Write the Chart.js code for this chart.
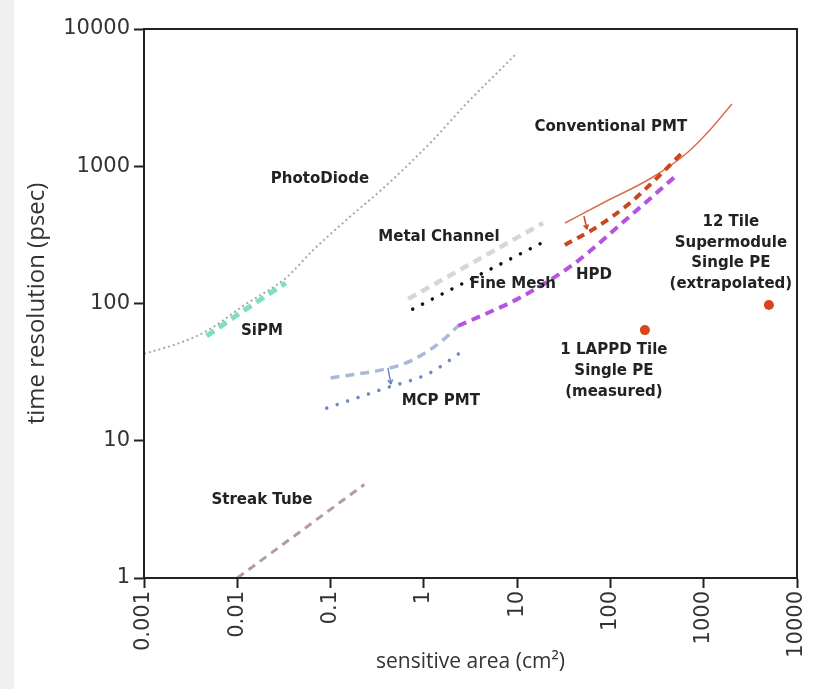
<!DOCTYPE html>
<html><head><meta charset="utf-8">
<script src="https://cdn.jsdelivr.net/npm/chart.js@4"></script>
<style>
html,body{margin:0;padding:0;}
body{background:linear-gradient(to right,#f0f0f0 0,#f0f0f0 14px,#fff 14px);width:821px;height:689px;overflow:hidden;}
#wrap{position:relative;width:821px;height:689px;}
</style></head><body>
<div id="wrap"><canvas id="c" width="821" height="689"></canvas></div>
<script>
// ---- ticks ----
const xTicks = [0.001, 0.01, 0.1, 1, 10, 100, 1000, 10000];
const xTickLabels = ['0.001', '0.01', '0.1', '1', '10', '100', '1000', '10000'];
const yTicks = [1, 10, 100, 1000, 10000];
const yTickLabels = ['1', '10', '100', '1000', '10000'];

// ---- series (sensitive area cm^2, time resolution psec) ----
const photoDiodeArea = [0.001, 0.0023, 0.0047, 0.0121, 0.033, 0.065, 0.15, 0.4, 1.25, 2.9, 6.5, 10];
const photoDiodeTime = [43, 51, 63, 98, 153, 245, 410, 730, 1550, 2890, 5000, 6700];
const sipmArea = [0.0047, 0.0121, 0.033];
const sipmTime = [58, 90, 141];
const streakArea = [0.01, 0.23];
const streakTime = [1, 4.8];
const metalArea = [0.68, 19];
const metalTime = [108, 386];
const fineMeshArea = [0.76, 20];
const fineMeshTime = [91, 285];
const mcpDashArea = [0.1, 0.43, 0.76, 1.6, 2.32];
const mcpDashTime = [28.7, 33.9, 38.8, 54, 68.6];
const mcpDotArea = [0.091, 0.39, 1.16, 2.6];
const mcpDotTime = [17.3, 24.2, 31.2, 45];
const hpdArea = [2.32, 5.1, 10.7, 41.7, 126, 516];
const hpdTime = [68.6, 86.7, 110, 197, 373, 863];
const pmtDashArea = [32.5, 71.6, 162, 340, 628];
const pmtDashTime = [267, 361, 540, 863, 1313];
const pmtSolidArea = [32.5, 83, 286, 661, 1165, 2005];
const pmtSolidTime = [386, 540, 835, 1249, 1837, 2842];
const lappdArea = [234, 5000];
const lappdTime = [64, 97.5];

// ---- annotations ----
const labelText = ['PhotoDiode', 'SiPM', 'Metal Channel', 'Fine Mesh', 'HPD', 'Conventional PMT',
  'MCP PMT', 'Streak Tube', '12 Tile\nSupermodule\nSingle PE\n(extrapolated)', '1 LAPPD Tile\nSingle PE\n(measured)'];
const labelArea = [0.0769, 0.0184, 1.45, 9.0, 66.5, 101, 1.52, 0.0184, 1955, 109];
const labelTime = [807, 63, 305, 139, 161, 1932, 19.5, 3.7, 233, 32.2];
const arrowFromArea = [0.412, 52];
const arrowFromTime = [33.9, 434];
const arrowToArea = [0.444, 56];
const arrowToTime = [25.9, 349];
const arrowColor = ['#6f87c9', '#c9461f'];

const pts = (a, t) => a.map((v, i) => ({x: v, y: t[i]}));

const annotPlugin = {
  id: 'annot',
  afterDatasetsDraw(chart) {
    const {ctx, chartArea: ca, scales: {x, y}} = chart;
    ctx.save();
    arrowFromArea.forEach((a, i) => {
      const x1 = x.getPixelForValue(a), y1 = y.getPixelForValue(arrowFromTime[i]);
      const x2 = x.getPixelForValue(arrowToArea[i]), y2 = y.getPixelForValue(arrowToTime[i]);
      ctx.strokeStyle = arrowColor[i]; ctx.lineWidth = 1.5;
      ctx.beginPath(); ctx.moveTo(x1, y1); ctx.lineTo(x2, y2); ctx.stroke();
      const ang = Math.atan2(y2 - y1, x2 - x1), h = 5;
      ctx.beginPath();
      ctx.moveTo(x2, y2);
      ctx.lineTo(x2 - h * Math.cos(ang - 0.5), y2 - h * Math.sin(ang - 0.5));
      ctx.moveTo(x2, y2);
      ctx.lineTo(x2 - h * Math.cos(ang + 0.5), y2 - h * Math.sin(ang + 0.5));
      ctx.stroke();
    });
    ctx.font = 'bold 15px "DejaVu Sans"';
    ctx.fillStyle = '#222'; ctx.textAlign = 'center'; ctx.textBaseline = 'middle';
    labelText.forEach((t, i) => {
      const lines = t.split('\n');
      const px = x.getPixelForValue(labelArea[i]), py = y.getPixelForValue(labelTime[i]);
      const lh = 20.6;
      lines.forEach((ln, j) => ctx.fillText(ln, px, py + (j - (lines.length - 1) / 2) * lh));
    });
    ctx.strokeStyle = '#222'; ctx.lineWidth = 2;
    ctx.strokeRect(ca.left, ca.top, ca.right - ca.left, ca.bottom - ca.top);
    ctx.restore();
  }
};

const line = (label, a, t, color, width, dash, extra) => Object.assign({
  label, data: pts(a, t), showLine: true, borderColor: color, backgroundColor: color,
  borderWidth: width, borderDash: dash, pointRadius: 0, pointHoverRadius: 0,
  cubicInterpolationMode: 'monotone', borderCapStyle: 'butt'
}, extra || {});

new Chart(document.getElementById('c'), {
  type: 'scatter',
  data: {
    datasets: [
      line('PhotoDiode', photoDiodeArea, photoDiodeTime, '#a9a9a9', 2, [2, 3]),
      line('SiPM', sipmArea, sipmTime, '#80e0bd', 5, [9, 6]),
      line('Streak Tube', streakArea, streakTime, '#b59aa6', 3, [8, 6]),
      line('Metal Channel', metalArea, metalTime, '#d6d6d6', 4.5, [9, 6]),
      line('Fine Mesh', fineMeshArea, fineMeshTime, '#111111', 3.5, [0.01, 11], {borderCapStyle: 'round'}),
      line('MCP PMT dashed', mcpDashArea, mcpDashTime, '#a9b9d9', 3.5, [9, 6]),
      line('MCP PMT dotted', mcpDotArea, mcpDotTime, '#6f87c9', 3.5, [0.01, 11], {borderCapStyle: 'round'}),
      line('HPD', hpdArea, hpdTime, '#b653e0', 4, [9, 6]),
      line('Conventional PMT dashed', pmtDashArea, pmtDashTime, '#c9461f', 4, [8, 6]),
      line('Conventional PMT', pmtSolidArea, pmtSolidTime, '#d8704f', 1.5, []),
      {label: 'LAPPD', data: pts(lappdArea, lappdTime), showLine: false, pointRadius: 5,
       pointBackgroundColor: '#d9441c', pointBorderColor: '#d9441c', pointBorderWidth: 0}
    ]
  },
  options: {
    responsive: false, animation: false, devicePixelRatio: 1,
    layout: {padding: {top: 29, right: 24, left: 0, bottom: 0}},
    plugins: {legend: {display: false}, tooltip: {enabled: false}},
    scales: {
      x: {
        type: 'logarithmic', min: 0.001, max: 10000, position: 'bottom',
        afterBuildTicks: s => { s.ticks = xTicks.map(v => ({value: v})); },
        afterFit: s => { s.height = 111; s.paddingLeft = 10; s.paddingRight = 10; },
        ticks: {autoSkip: false, minRotation: 90, maxRotation: 90, padding: 3, color: '#333',
          font: {family: 'DejaVu Sans', size: 21}, callback: (v, i) => xTickLabels[i]},
        grid: {drawOnChartArea: false, tickLength: 10, tickWidth: 2, tickColor: '#222'},
        border: {color: '#222', width: 2},
        title: {display: true, text: 'sensitive area (cm²)', color: '#333',
          font: {family: 'Open Sans', size: 21}, padding: {top: 0, bottom: 14}}
      },
      y: {
        type: 'logarithmic', min: 1, max: 10000, position: 'left',
        afterBuildTicks: s => { s.ticks = yTicks.map(v => ({value: v})); },
        afterFit: s => { s.width = 144; },
        ticks: {autoSkip: false, padding: 4, color: '#333',
          font: {family: 'DejaVu Sans', size: 21}, callback: (v, i) => yTickLabels[i]},
        grid: {drawOnChartArea: false, tickLength: 10, tickWidth: 2, tickColor: '#222'},
        border: {color: '#222', width: 2},
        title: {display: true, text: 'time resolution (psec)', color: '#333',
          font: {family: 'Open Sans', size: 24}, padding: {top: 23, bottom: 0}}
      }
    }
  },
  plugins: [annotPlugin]
});
</script>
</body></html>
